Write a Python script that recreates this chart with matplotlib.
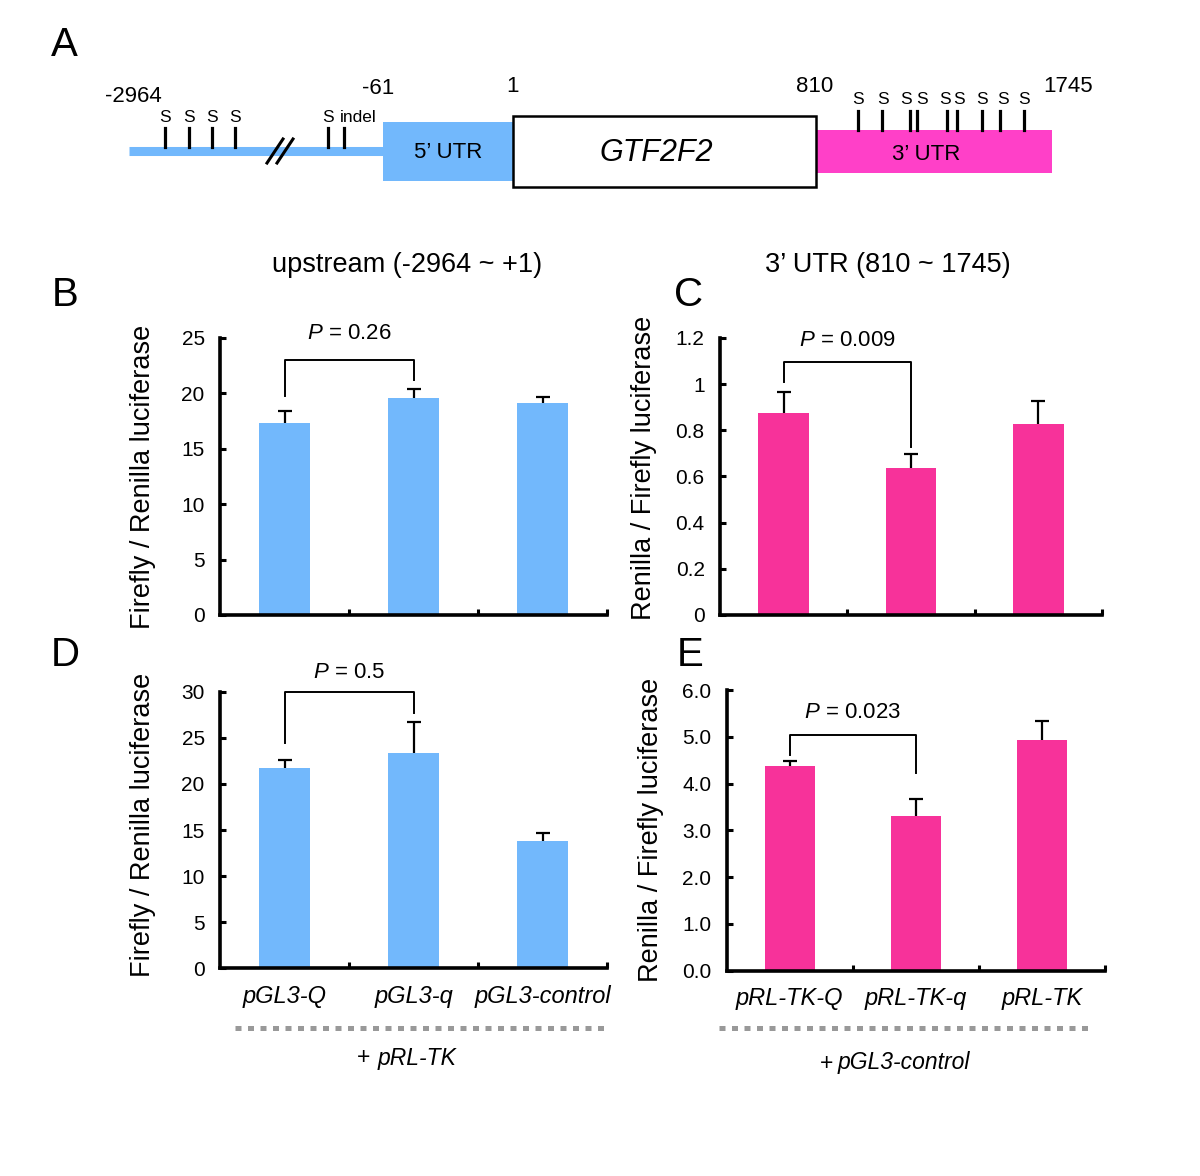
import matplotlib
matplotlib.use('Agg')
import matplotlib.pyplot as plt
from matplotlib.patches import Rectangle

plt.rcParams['font.family'] = ['Liberation Sans', 'DejaVu Sans']
plt.rcParams['mathtext.fontset'] = 'custom'
plt.rcParams['mathtext.rm'] = 'Liberation Sans'
plt.rcParams['mathtext.it'] = 'Liberation Sans:italic'

W, H = 1200, 1176

# ---- data ----
labels_up = ['pGL3-Q', 'pGL3-q', 'pGL3-control']
labels_utr = ['pRL-TK-Q', 'pRL-TK-q', 'pRL-TK']

b_mean = [17.3, 19.6, 19.1]
b_err = [1.15, 0.8, 0.6]
c_mean = [0.877, 0.638, 0.829]
c_err = [0.09, 0.06, 0.10]
d_mean = [21.7, 23.3, 13.8]
d_err = [0.9, 3.4, 0.9]
e_mean = [4.37, 3.31, 4.94]
e_err = [0.12, 0.36, 0.39]

# bracket: (top, left end, right end, text y, P text)
b_brk = (23.0, 19.8, 21.2, 25.4, '0.26')
c_brk = (1.095, 1.011, 0.729, 1.19, '0.009')
d_brk = (29.96, 24.4, 27.7, 32.1, '0.5')
e_brk = (5.04, 4.61, 4.23, 5.51, '0.023')

b_ticks = [0, 5, 10, 15, 20, 25]
b_ticklabels = ['0', '5', '10', '15', '20', '25']
c_ticks = [0, 0.2, 0.4, 0.6, 0.8, 1.0, 1.2]
c_ticklabels = ['0', '0.2', '0.4', '0.6', '0.8', '1', '1.2']
d_ticks = [0, 5, 10, 15, 20, 25, 30]
d_ticklabels = ['0', '5', '10', '15', '20', '25', '30']
e_ticks = [0, 1, 2, 3, 4, 5, 6]
e_ticklabels = ['0.0', '1.0', '2.0', '3.0', '4.0', '5.0', '6.0']

# schematic (panel A), in pixel-like schematic units
up_snps = [165, 189, 212, 235, 328, 344]
up_snp_labels = ['S', 'S', 'S', 'S', 'S', '']
utr_snps = [858, 882, 910, 917, 947, 957, 982, 1000, 1024]
utr_snp_label_x = [858, 883, 906, 922, 945, 959, 982, 1003, 1024]
pos_labels = ['-2964', '-61', '1', '810', '1745']
pos_label_x = [133, 378, 512, 815, 1068]
pos_label_y = [96, 88, 87, 87, 86]

BLUE = '#72b8fc'
PINK = '#f7329a'
MAGENTA = '#ff40c8'

fig = plt.figure(figsize=(12, 11.76), dpi=100)


def rect(x0, y0, x1, y1):
    return [x0 / W, 1 - y1 / H, (x1 - x0) / W, (y1 - y0) / H]


# ---- panel A ----
axa = fig.add_axes([0, 1 - 200 / H, 1, 200 / H])
axa.set_xlim(0, W)
axa.set_ylim(200, 0)
axa.axis('off')
axa.plot([129, 383], [151, 151], color=BLUE, lw=6.5, solid_capstyle='butt')
axa.plot([267, 283], [163, 139], color='black', lw=2.2)
axa.plot([277, 293], [163, 139], color='black', lw=2.2)
for x, s in zip(up_snps, up_snp_labels):
    axa.plot([x, x], [128, 147], color='black', lw=2.3)
    if s:
        axa.text(x, 118, s, ha='center', va='center', fontsize=12.5)
axa.text(340, 118, 'indel', ha='left', va='center', fontsize=12.5)
axa.add_patch(Rectangle((383, 121.7), 130, 59.3, color=BLUE, lw=0))
axa.text(448, 153, '5’ UTR', ha='center', va='center', fontsize=16)
axa.add_patch(Rectangle((816, 130), 236, 43, color=MAGENTA, lw=0))
axa.text(926, 154, '3’ UTR', ha='center', va='center', fontsize=16)
axa.add_patch(Rectangle((513, 116), 303, 71, facecolor='white',
                        edgecolor='black', lw=1.8))
axa.text(656, 153, 'GTF2F2', ha='center', va='center', fontsize=22,
         style='italic')
for x in utr_snps:
    axa.plot([x, x], [111, 130], color='black', lw=2.3)
for x in utr_snp_label_x:
    axa.text(x, 100, 'S', ha='center', va='center', fontsize=12.5)
for s, x, y in zip(pos_labels, pos_label_x, pos_label_y):
    axa.text(x, y, s, ha='center', va='center', fontsize=16)


# ---- bar panels ----
def bar_panel(box, mean, err, color, ticks, ticklabels, brk, ylabel,
              ylab_y=0.5, xlabels=None):
    ax = fig.add_axes(rect(*box))
    xs = list(range(len(mean)))
    tops = [m + e for m, e in zip(mean, err)]
    ax.bar(xs, mean, width=0.4, color=color, lw=0, zorder=2)
    ax.vlines(xs, mean, tops, color='black', lw=1.6, zorder=1)
    ax.plot(xs, tops, ls='none', marker='_', ms=10, mew=1.6, color='black',
            zorder=1)
    ax.set_xlim(-0.5, 2.5)
    ax.set_ylim(ticks[0], ticks[-1])
    ax.set_yticks(ticks)
    ax.set_yticklabels(ticklabels)
    ax.set_xticks([0.5, 1.5, 2.5])
    ax.set_xticklabels([])
    ax.tick_params(axis='both', direction='in', length=4, width=2.2,
                   labelsize=15)
    ax.tick_params(axis='y', pad=11)
    if xlabels:
        ax.set_xticks([0, 1, 2], minor=True)
        ax.set_xticklabels(xlabels, minor=True, style='italic', fontsize=17)
        ax.tick_params(axis='x', which='minor', length=0, pad=12)
    for sp in ['top', 'right']:
        ax.spines[sp].set_visible(False)
    for sp in ['left', 'bottom']:
        ax.spines[sp].set_linewidth(2.6)
    top, yl, yr, ty, p = brk
    ax.plot([0, 0, 1, 1], [yl, top, top, yr], color='black', lw=1.4,
            clip_on=False)
    ax.text(0.5, ty, '$P$ = ' + p, ha='center', va='center', fontsize=16)
    ax.set_ylabel(ylabel, fontsize=19.5)
    ax.yaxis.set_label_coords(-0.165, ylab_y)
    return ax


bar_panel((220, 338, 607, 615), b_mean, b_err, BLUE, b_ticks, b_ticklabels,
          b_brk, 'Firefly / Renilla luciferase')
bar_panel((720, 338, 1102, 615), c_mean, c_err, PINK, c_ticks, c_ticklabels,
          c_brk, 'Renilla / Firefly luciferase', ylab_y=0.53)
bar_panel((220, 691.7, 607, 968.3), d_mean, d_err, BLUE, d_ticks,
          d_ticklabels, d_brk, 'Firefly / Renilla luciferase', ylab_y=0.52,
          xlabels=labels_up)
bar_panel((726.7, 690, 1105, 970.7), e_mean, e_err, PINK, e_ticks,
          e_ticklabels, e_brk, 'Renilla / Firefly luciferase',
          xlabels=labels_utr)

# ---- overlay texts and dashed group lines ----
axo = fig.add_axes([0, 0, 1, 1])
axo.set_xlim(0, W)
axo.set_ylim(H, 0)
axo.axis('off')
axo.patch.set_alpha(0)

for s, x, y in [('A', 64, 45), ('B', 65, 295), ('C', 689, 295),
                ('D', 65, 655), ('E', 690, 655)]:
    axo.text(x, y, s, ha='center', va='center', fontsize=29)

axo.text(407.5, 265, 'upstream (-2964 ~ +1)', ha='center', va='center',
         fontsize=19.5)
axo.text(888, 265, '3’ UTR (810 ~ 1745)', ha='center', va='center',
         fontsize=19.5)

axo.plot([235, 608], [1027.7, 1027.7], color='#999999', lw=3.6,
         dashes=(1.2, 1.3), solid_capstyle='butt', dash_capstyle='butt')
axo.plot([719, 1091], [1027.7, 1027.7], color='#999999', lw=3.6,
         dashes=(1.2, 1.3), solid_capstyle='butt', dash_capstyle='butt')

axo.text(357, 1058, '+', ha='left', va='center', fontsize=16.5)
axo.text(378, 1058, 'pRL-TK', ha='left', va='center', fontsize=16.5,
         style='italic')
axo.text(820, 1063, '+', ha='left', va='center', fontsize=16.5)
axo.text(838, 1063, 'pGL3-control', ha='left', va='center', fontsize=16.5,
         style='italic')

fig.savefig('out.png', dpi=100)
